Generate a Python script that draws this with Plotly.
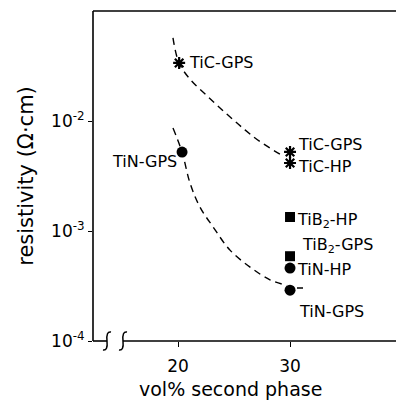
import math
import plotly.graph_objects as go

# ---- data ----
star_x = [20.1, 30.0, 30.0]
star_y = [0.0337, 0.00523, 0.00415]
square_x = [30.0, 30.0]
square_y = [0.00134, 0.00059]
circle_x = [20.36, 30.0, 30.0]
circle_y = [0.00522, 0.00046, 0.00029]

tic_curve_x = [19.55, 20.09, 21.07, 22.68, 24.38, 25.98, 27.32, 29.38]
tic_curve_y = [0.0569, 0.0337, 0.0240, 0.0166, 0.0115, 0.0083, 0.0065, 0.0048]
tin_curve_x = [19.55, 20.36, 21.07, 21.96, 23.13, 24.64, 26.43, 28.21, 29.73]
tin_curve_y = [0.00863, 0.00522, 0.00273, 0.00165, 0.00109, 0.00067, 0.00047, 0.00036, 0.00032]

xtick_vals = [20, 30]
xtick_text = ["20", "30"]
ytick_vals = [1e-4, 1e-3, 1e-2]
ytick_text = ["10<sup>-4</sup>", "10<sup>-3</sup>", "10<sup>-2</sup>"]

labels = [
    ("TiC-GPS", 20.1, 0.0337, 8, 0),
    ("TiN-GPS", 20.36, 0.00522, -72, 9),
    ("TiC-GPS", 30.0, 0.00523, 6, -7),
    ("TiC-HP", 30.0, 0.00415, 6, 3),
    ("TiB<sub>2</sub>-HP", 30.0, 0.00134, 5, 3),
    ("TiB<sub>2</sub>-GPS", 30.0, 0.00059, 10, -11),
    ("TiN-HP", 30.0, 0.00046, 5, 1),
    ("TiN-GPS", 30.0, 0.00029, 7, 21),
]

FONT = "DejaVu Sans"
W, H = 396, 400
L, T, R, B = 93, 11, 0, 59
PW, PH = W - L - R, H - T - B


def px(xp):
    return (xp - L) / PW


def py(yp):
    return (H - B - yp) / PH


fig = go.Figure()
dash = "7px,5px"
fig.add_trace(go.Scatter(x=tic_curve_x, y=tic_curve_y, mode="lines",
                         line=dict(color="black", width=1.4, dash=dash, shape="spline", smoothing=1.0),
                         showlegend=False, hoverinfo="skip"))
fig.add_trace(go.Scatter(x=tin_curve_x, y=tin_curve_y, mode="lines",
                         line=dict(color="black", width=1.4, dash=dash, shape="spline", smoothing=1.0),
                         showlegend=False, hoverinfo="skip"))
fig.add_trace(go.Scatter(x=star_x, y=star_y, mode="markers",
                         marker=dict(symbol="asterisk-open", size=10, color="black",
                                     line=dict(color="black", width=2.2)),
                         showlegend=False))
fig.add_trace(go.Scatter(x=square_x, y=square_y, mode="markers",
                         marker=dict(symbol="square", size=10, color="black"),
                         showlegend=False))
fig.add_trace(go.Scatter(x=circle_x, y=circle_y, mode="markers",
                         marker=dict(symbol="circle", size=11, color="black"),
                         showlegend=False))

for text, x, y, dx, dy in labels:
    fig.add_annotation(x=x, y=math.log10(y), xref="x", yref="y", text=text, showarrow=False,
                       xanchor="left", yanchor="middle", xshift=dx, yshift=-dy,
                       font=dict(family=FONT, size=16, color="black"))

# small dash next to TiN-GPS circle
fig.add_shape(type="line", xref="paper", yref="paper",
              x0=px(297), x1=px(303), y0=py(288), y1=py(288),
              line=dict(color="black", width=1.5))

# axis frame lines (left, top, bottom with break)
lw = 1.6
fig.add_shape(type="line", xref="paper", yref="paper", x0=0, x1=0, y0=0, y1=1,
              line=dict(color="black", width=lw))
fig.add_shape(type="line", xref="paper", yref="paper", x0=0, x1=1, y0=1, y1=1,
              line=dict(color="black", width=lw))
fig.add_shape(type="line", xref="paper", yref="paper", x0=0, x1=px(107), y0=0, y1=0,
              line=dict(color="black", width=lw))
fig.add_shape(type="line", xref="paper", yref="paper", x0=px(123), x1=1, y0=0, y1=0,
              line=dict(color="black", width=lw))


def squiggle(cx):
    pts = [(cx + 4, 332), (cx - 1, 331), (cx, 341), (cx + 1, 351), (cx - 4, 350)]
    p = [(px(a), py(b)) for a, b in pts]
    return (f"M {p[0][0]},{p[0][1]} Q {p[1][0]},{p[1][1]} {p[2][0]},{p[2][1]} "
            f"Q {p[3][0]},{p[3][1]} {p[4][0]},{p[4][1]}")


for cx in (107, 123):
    fig.add_shape(type="path", xref="paper", yref="paper", path=squiggle(cx),
                  line=dict(color="black", width=1.5))

# x-axis title (placed slightly left of centre, as in the original)
fig.add_annotation(x=px(230), y=py(389), xref="paper", yref="paper",
                   text="vol% second phase", showarrow=False,
                   xanchor="center", yanchor="middle",
                   font=dict(family=FONT, size=19, color="black"))

fig.update_layout(
    width=W, height=H,
    margin=dict(l=L, r=R, t=T, b=B),
    paper_bgcolor="white", plot_bgcolor="white",
    font=dict(family=FONT, size=17, color="black"),
    xaxis=dict(range=[12.41, 39.46], showgrid=False, zeroline=False, showline=False,
               tickvals=xtick_vals, ticktext=xtick_text, ticks="outside", ticklen=5,
               tickwidth=1.4, tickcolor="black", ticklabelstandoff=5),
    yaxis=dict(type="log", range=[-4, -1], showgrid=False, zeroline=False, showline=False,
               tickvals=ytick_vals, ticktext=ytick_text, ticks="outside", ticklen=4,
               tickwidth=1.4, tickcolor="black",
               title=dict(text="resistivity (Ω·cm)", standoff=11,
                          font=dict(family=FONT, size=21))),
)

fig.write_html("out.html")
